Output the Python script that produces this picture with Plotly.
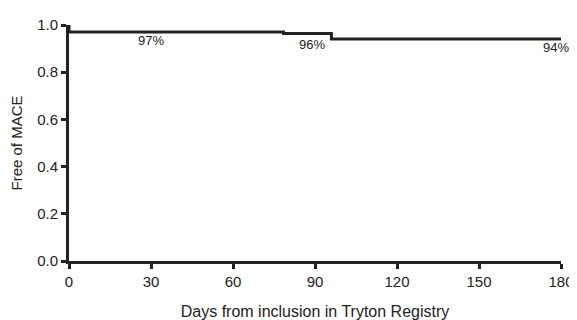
import plotly.graph_objects as go

days = [0, 0, 78.5, 96, 180]
free_of_mace = [1.0, 0.97, 0.964, 0.941, 0.941]

label_days = [30, 89, 178]
label_vals = [0.933, 0.916, 0.903]
label_texts = ["97%", "96%", "94%"]

x_ticks = [0, 30, 60, 90, 120, 150, 180]
y_ticks = [0.0, 0.2, 0.4, 0.6, 0.8, 1.0]

ink = "#222222"
fig = go.Figure()
fig.add_trace(go.Scatter(x=days, y=free_of_mace, mode="lines", line=dict(shape="hv", color=ink, width=3), cliponaxis=False))

for d, v, t in zip(label_days, label_vals, label_texts):
    fig.add_annotation(x=d, y=v, text=t, showarrow=False, font=dict(size=13, color=ink))

# page body has an 8px default margin; figure sized to fit the 577x320 window
fig.update_layout(
    width=569, height=312,
    margin=dict(l=61, r=16, t=17, b=59),
    paper_bgcolor="white", plot_bgcolor="white",
    showlegend=False,
    font=dict(family="Liberation Sans, Arial, sans-serif", color=ink),
)
fig.update_xaxes(range=[0, 180], tickvals=x_ticks, ticktext=[str(v) for v in x_ticks], automargin=False,
                 showgrid=False, zeroline=False, showline=True, linecolor=ink, linewidth=3,
                 ticks="outside", ticklen=5, tickwidth=3, tickcolor=ink,
                 tickfont=dict(size=15), title=dict(text="Days from inclusion in Tryton Registry", font=dict(size=16), standoff=20))
fig.update_yaxes(range=[0, 1.0], tickvals=y_ticks, ticktext=[f"{v:.1f}" for v in y_ticks], automargin=False,
                 showgrid=False, zeroline=False, showline=True, linecolor=ink, linewidth=3,
                 ticks="outside", ticklen=5, tickwidth=3, tickcolor=ink,
                 tickfont=dict(size=15), title=dict(text="Free of MACE", font=dict(size=15), standoff=14))

fig.write_html("out.html")
